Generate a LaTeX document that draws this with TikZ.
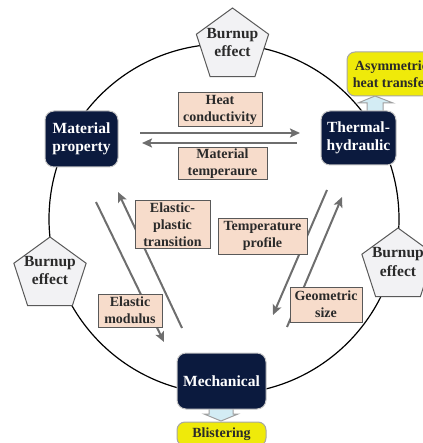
\documentclass[tikz,border=0pt]{standalone}
\usepackage{fontspec}
\setmainfont{Liberation Serif}
\usetikzlibrary{shapes.geometric,arrows.meta}
\definecolor{navyc}{HTML}{0B1A3E}
\definecolor{peachc}{HTML}{F7DCCB}
\definecolor{pentc}{HTML}{F2F2F4}
\definecolor{arrc}{HTML}{6E6E6E}
\definecolor{yelc}{HTML}{EFEA0A}
\definecolor{bluec}{HTML}{D3ECF4}
\definecolor{txtc}{HTML}{2A2A2A}
\tikzset{
  navybox/.style={rounded corners=9pt, fill=navyc, draw=gray!45, line width=1pt,
    text=white, font=\bfseries\fontsize{15.5}{18}\selectfont, align=center, inner sep=0pt},
  lbl/.style={draw=gray!70!black, line width=1pt, fill=peachc,
    font=\bfseries\fontsize{14}{17}\selectfont, text=txtc, align=center, inner sep=0pt},
  pent/.style={regular polygon, regular polygon sides=5, minimum size=76pt, inner sep=0pt,
    draw=gray!70!black, line width=1pt, fill=pentc},
  penttxt/.style={font=\bfseries\fontsize{15.5}{18}\selectfont, text=txtc, align=center, inner sep=0pt},
  yelbox/.style={rounded corners=8pt, fill=yelc, draw=gray!70, line width=1pt,
    font=\bfseries\fontsize{14}{17}\selectfont, text=txtc, align=center, inner sep=0pt},
  garr/.style={draw=arrc, line width=2pt, -{Stealth[length=10pt,width=9pt,inset=2pt]}},
  blockarr/.style={fill=bluec, draw=gray!75, line width=1pt}
}
\begin{document}
\begin{tikzpicture}[x=1pt,y=1pt]
\useasboundingbox (0,0) rectangle (422,-443);
% ring
\draw[line width=1.2pt] (224,-219) circle[radius=175];
% connectors
\coordinate (t1s) at (140,-133); \coordinate (t1e) at (300,-133);
\coordinate (t2s) at (297,-143); \coordinate (t2e) at (142,-143);
\coordinate (l1s) at (96,-202);  \coordinate (l1e) at (164,-342);
\coordinate (l2s) at (182,-328); \coordinate (l2e) at (118,-192);
\coordinate (r1s) at (327,-190); \coordinate (r1e) at (273,-315);
\coordinate (r2s) at (287,-327); \coordinate (r2e) at (342,-197);
\draw[garr] (t1s) -- (t1e);
\draw[garr] (t2s) -- (t2e);
\draw[garr] (l1s) -- (l1e);
\draw[garr] (l2s) -- (l2e);
\draw[garr] (r1s) -- (r1e);
\draw[garr] (r2s) -- (r2e);
% labels
\node[lbl, minimum width=84pt, minimum height=34pt] (hc) at (220,-110) {Heat\\conductivity};
\node[lbl, minimum width=89pt, minimum height=32pt] (mt) at (222.5,-164) {Material\\temperaure};
\node[lbl, minimum width=75pt, minimum height=47pt] (ep) at (172.5,-224.5) {Elastic-\\plastic\\transition};
\node[lbl, minimum width=89pt, minimum height=36pt] (tp) at (262.5,-236) {Temperature\\profile};
\node[lbl, minimum width=64pt, minimum height=33pt] (em) at (130,-310.5) {Elastic\\modulus};
\node[lbl, minimum width=72pt, minimum height=35pt] (gs) at (326,-304.5) {Geometric\\size};
% block arrows
\filldraw[blockarr] (367,-112) -- (367,-103) -- (358,-103) -- (375,-96) -- (393,-103) -- (383,-103) -- (383,-112) -- cycle;
\filldraw[blockarr] (209,-408) -- (209,-414) -- (204,-414) -- (221,-421) -- (238,-414) -- (233,-414) -- (233,-408) -- cycle;
% main nodes
\node[navybox, minimum width=73pt, minimum height=56pt] (mp) at (81.5,-139) {Material\\property};
\node[navybox, minimum width=75pt, minimum height=54pt] (th) at (358.5,-138) {Thermal-\\hydraulic};
\node[navybox, minimum width=89pt, minimum height=56pt] (me) at (221.5,-381) {Mechanical};
% pentagons
\node[pent] (bt) at (232.5,-46) {};
\node[penttxt] (btt) at (232.5,-43) {Burnup\\effect};
\node[pent] (bl) at (50,-275) {};
\node[penttxt] (blt) at (50,-270) {Burnup\\effect};
\node[pent] (br) at (398,-266) {};
\node[penttxt] (brt) at (398,-262) {Burnup\\effect};
% outcomes
\node[yelbox, minimum width=89pt, minimum height=44pt] (as) at (391.5,-74) {Asymmetric\\heat transfer};
\node[yelbox, minimum width=89pt, minimum height=24pt] (bl2) at (221.5,-434) {Blistering};
\end{tikzpicture}
\end{document}
